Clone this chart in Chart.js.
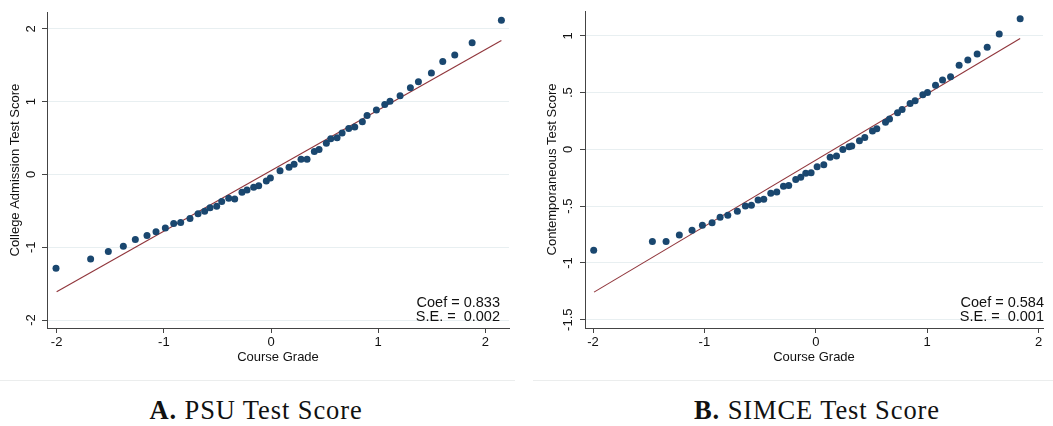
<!DOCTYPE html>
<html><head><meta charset="utf-8">
<script src="https://cdn.jsdelivr.net/npm/chart.js@4/dist/chart.umd.min.js"></script>
<style>
html,body{margin:0;padding:0;background:#fff;width:1053px;height:426px;overflow:hidden;}
.panel{position:absolute;top:0;height:372px;}
#pa{left:0;width:520px;}
#pb{left:530px;width:523px;}
.sep{position:absolute;top:380px;height:1px;background:#ebeded;}
.cap{position:absolute;top:395px;line-height:30px;font-family:"Liberation Serif","Times New Roman",serif;font-size:26.5px;letter-spacing:0.9px;color:#111;white-space:nowrap;transform:translateX(-50%);}
.cap b{font-weight:bold;}
</style></head>
<body>
<div class="panel" id="pa"><canvas id="ca"></canvas></div>
<div class="panel" id="pb"><canvas id="cb"></canvas></div>
<div class="sep" style="left:0;width:515px"></div>
<div class="sep" style="left:533px;width:520px"></div>
<div class="cap" style="left:256px"><b>A.</b> PSU Test Score</div>
<div class="cap" style="left:817px"><b>B.</b> SIMCE Test Score</div>
<script>
// ---- Panel A: PSU ----
const gradeA = [-2.006,-1.683,-1.518,-1.378,-1.266,-1.157,-1.073,-0.986,-0.908,-0.843,-0.756,-0.681,-0.619,-0.569,-0.507,-0.460,-0.395,-0.339,-0.271,-0.224,-0.162,-0.115,-0.044,-0.006,0.084,0.168,0.215,0.280,0.336,0.404,0.448,0.516,0.557,0.616,0.663,0.725,0.781,0.852,0.896,0.983,1.061,1.110,1.204,1.300,1.375,1.496,1.602,1.714,1.876,2.149];
const scoreA = [-1.29,-1.16,-1.06,-0.986,-0.895,-0.84,-0.786,-0.736,-0.673,-0.659,-0.605,-0.541,-0.505,-0.459,-0.436,-0.373,-0.327,-0.336,-0.245,-0.214,-0.177,-0.155,-0.091,-0.05,0.05,0.1,0.141,0.209,0.209,0.314,0.341,0.427,0.491,0.505,0.568,0.632,0.65,0.723,0.809,0.886,0.959,1.005,1.082,1.191,1.273,1.395,1.55,1.641,1.809,2.118];
const fitXA = [-2.0, 2.149];
const fitYA = [-1.61, 1.84];
const xTicksA = [-2,-1,0,1,2];
const xLabelsA = ["-2","-1","0","1","2"];
const yTicksA = [2,1,0,-1,-2];
const yLabelsA = ["2","1","0","-1","-2"];
const statsA = ["Coef = 0.833","S.E. =  0.002"];

// ---- Panel B: SIMCE ----
const gradeB = [-1.994,-1.467,-1.344,-1.225,-1.111,-1.018,-0.931,-0.859,-0.790,-0.704,-0.632,-0.578,-0.518,-0.467,-0.404,-0.350,-0.290,-0.243,-0.180,-0.135,-0.090,-0.042,0.012,0.072,0.129,0.186,0.243,0.299,0.323,0.392,0.440,0.509,0.548,0.626,0.662,0.734,0.775,0.847,0.892,0.961,1.003,1.075,1.138,1.210,1.287,1.365,1.449,1.539,1.647,1.835];
const scoreB = [-0.888,-0.812,-0.812,-0.753,-0.712,-0.668,-0.645,-0.598,-0.580,-0.545,-0.498,-0.492,-0.445,-0.440,-0.387,-0.375,-0.325,-0.319,-0.264,-0.246,-0.211,-0.205,-0.152,-0.135,-0.070,-0.059,0.0,0.023,0.029,0.076,0.105,0.161,0.182,0.240,0.267,0.322,0.352,0.404,0.428,0.481,0.501,0.565,0.612,0.639,0.741,0.788,0.841,0.900,1.017,1.151];
const fitXB = [-1.991, 1.835];
const fitYB = [-1.257, 0.976];
const xTicksB = [-2,-1,0,1,2];
const xLabelsB = ["-2","-1","0","1","2"];
const yTicksB = [1,0.5,0,-0.5,-1,-1.5];
const yLabelsB = ["1",".5","0","-.5","-1","-1.5"];
const statsB = ["Coef = 0.584","S.E. =  0.001"];

const FONT = "'Liberation Sans', Arial, sans-serif";
const NAVY = '#1a476f';
const MAROON = '#90353b';

const coefPlugin = {
  id: 'coefText',
  afterDraw(chart, args, o) {
    const ctx = chart.ctx;
    ctx.save();
    ctx.font = '14.5px ' + FONT;
    ctx.fillStyle = '#111';
    ctx.textAlign = 'right';
    ctx.textBaseline = 'middle';
    o.lines.forEach((t, i) => ctx.fillText(t, o.x, o.y[i]));
    ctx.restore();
  }
};

function makeChart(id, cfg) {
  const pts = cfg.gx.map((x, i) => ({x: x, y: cfg.gy[i]}));
  const fit = cfg.fx.map((x, i) => ({x: x, y: cfg.fy[i]}));
  new Chart(document.getElementById(id), {
    type: 'scatter',
    data: {
      datasets: [
        {type: 'line', data: fit, borderColor: MAROON, borderWidth: 1.1, pointRadius: 0, fill: false, order: 2},
        {data: pts, backgroundColor: NAVY, borderWidth: 0, pointRadius: 3.5, order: 1}
      ]
    },
    options: {
      responsive: true,
      maintainAspectRatio: false,
      animation: false,
      events: [],
      layout: {padding: {left: 0, right: cfg.padR, top: 11, bottom: 0}},
      plugins: {
        legend: {display: false},
        tooltip: {enabled: false},
        coefText: {lines: cfg.stats, x: cfg.statX, y: [303.3, 316.7]}
      },
      scales: {
        x: {
          type: 'linear',
          min: cfg.xmin, max: cfg.xmax,
          afterBuildTicks: s => { s.ticks = cfg.xt.map(v => ({value: v})); },
          afterFit: s => { s.height = 44; },
          ticks: {
            font: {family: FONT, size: 13}, color: '#111', padding: 2,
            maxRotation: 0, autoSkip: false,
            callback: (v) => { const i = cfg.xt.indexOf(v); return i >= 0 ? cfg.xl[i] : ''; }
          },
          grid: {display: true, drawOnChartArea: false, drawTicks: true, tickLength: 5, tickColor: '#444'},
          border: {display: true, color: '#444', width: 1},
          title: {display: true, text: 'Course Grade', font: {family: FONT, size: 13}, color: '#111', padding: {top: 0, bottom: 7}}
        },
        y: {
          type: 'linear',
          min: cfg.ymin, max: cfg.ymax,
          afterBuildTicks: s => { s.ticks = cfg.yt.map(v => ({value: v})); },
          afterFit: s => { s.width = cfg.yW; },
          ticks: {
            font: {family: FONT, size: 13}, color: '#111', padding: cfg.yPad,
            minRotation: 90, maxRotation: 90, crossAlign: 'center', autoSkip: false,
            callback: (v) => { const i = cfg.yt.indexOf(v); return i >= 0 ? cfg.yl[i] : ''; }
          },
          grid: {display: true, drawOnChartArea: true, drawTicks: true, tickLength: 5, color: '#e8eff1', tickColor: '#444', lineWidth: 1},
          border: {display: true, color: '#444', width: 1},
          title: {display: true, text: cfg.ytitle, font: {family: FONT, size: 13}, color: '#111', padding: {top: cfg.yTitlePad, bottom: 0}}
        }
      }
    },
    plugins: [coefPlugin]
  });
}

makeChart('ca', {
  gx: gradeA, gy: scoreA, fx: fitXA, fy: fitYA,
  xt: xTicksA, xl: xLabelsA, yt: yTicksA, yl: yLabelsA,
  xmin: -2.09, xmax: 2.22, ymin: -2.109, ymax: 2.227,
  padR: 11, yW: 47, yPad: 4.5, yTitlePad: 8,
  ytitle: 'College Admission Test Score', stats: statsA, statX: 500
});
makeChart('cb', {
  gx: gradeB, gy: scoreB, fx: fitXB, fy: fitYB,
  xt: xTicksB, xl: xLabelsB, yt: yTicksB, yl: yLabelsB,
  xmin: -2.072, xmax: 2.04, ymin: -1.573, ymax: 1.219,
  padR: 10, yW: 55, yPad: 0, yTitlePad: 15,
  ytitle: 'Contemporaneous Test Score', stats: statsB, statX: 514
});
</script>
</body></html>
